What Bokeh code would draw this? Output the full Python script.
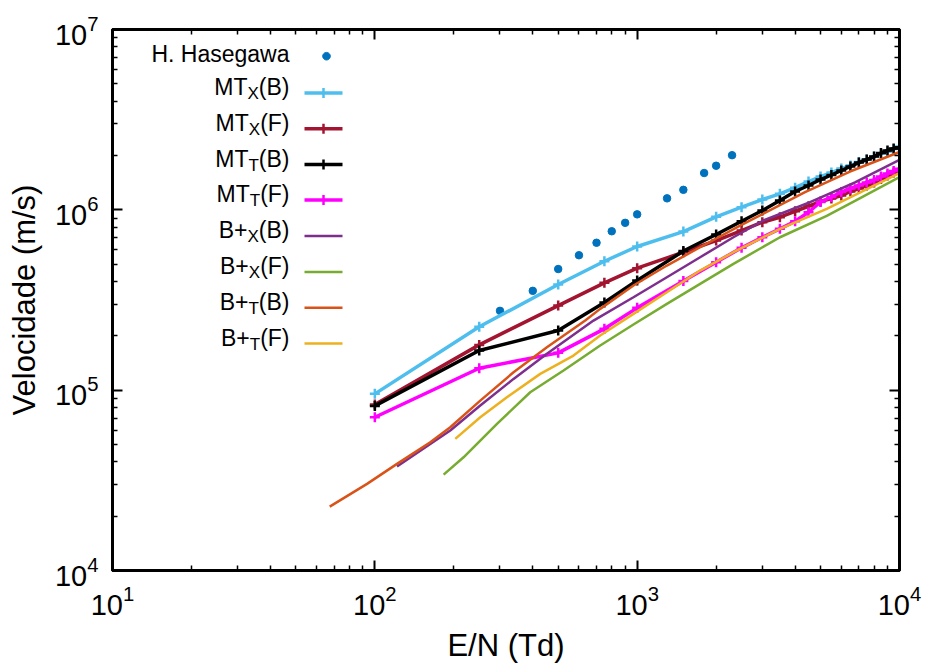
import math
from bokeh.plotting import figure
from bokeh.models import Range1d, FixedTicker, LogAxis, Label, PolyAnnotation
from bokeh.embed import file_html
from bokeh.resources import INLINE

# ---------------- data ----------------
haseg_x = [300, 400, 500, 600, 700, 800, 900, 1000, 1300, 1500, 1800, 2000, 2300]
haseg_y = [275300, 355400, 469600, 560100, 656900, 760700, 847000, 944000,
           1158000, 1291000, 1600000, 1756000, 2009000]

mt_x = [100, 250, 500, 750, 1000, 1500, 2000, 2500, 3000, 3500, 4000, 4500,
        5000, 5500, 6000, 6500, 7000, 7500, 8000, 8500, 9000, 9500, 10000]
mtx_b = [95400, 224500, 385200, 518600, 626000, 757800, 914500, 1034000, 1140000,
         1227000, 1327000, 1435000, 1530000, 1610000, 1694000, 1761000, 1841000,
         1901000, 1975000, 2053000, 2106000, 2174000, 2245000]
mtx_f = [83200, 178300, 294500, 393700, 474500, 581900, 675500, 767600, 853500,
         910000, 982000, 1047000, 1112000, 1155000, 1200000, 1264000, 1313000,
         1364000, 1418000, 1482000, 1550000, 1610000, 1667000]
mtt_b = [81800, 165800, 214100, 306000, 405400, 590800, 729400, 864600, 991000,
         1126000, 1264000, 1364000, 1472000, 1560000, 1652000, 1739000, 1829000,
         1901000, 1975000, 2065000, 2133000, 2188000, 2220000]
mtt_f = [70730, 132300, 161000, 218800, 286000, 402800, 512200, 615600, 704700,
         784500, 864600, 969800, 1105000, 1178000, 1255000, 1313000, 1364000,
         1418000, 1463000, 1530000, 1590000, 1642000, 1688000]

bxb_x = [121.5, 193.9, 252.3, 337.9, 452.9, 681.6, 968, 1298, 1738, 2328, 3028, 4560, 6767, 10000]
bxb_y = [37700, 59700, 82130, 115500, 159000, 243200, 327600, 422900, 545900,
         704700, 872400, 1102000, 1418000, 1894000]

bxf_x = [182.9, 217.9, 292.2, 391.2, 524, 722.8, 968, 1298, 1738, 2328, 3505, 5280, 6767, 10000]
bxf_y = [34030, 42440, 65040, 97360, 128500, 176800, 231200, 301000, 388700,
         501800, 704700, 925000, 1120000, 1520000]

btb_x = [67.3, 93.4, 121.5, 162.7, 193.9, 252.3, 337.9, 452.9, 633.9, 722.8, 968,
         1298, 1738, 2468, 4365, 6477, 10000]
btb_y = [22620, 30220, 39010, 51400, 62270, 87550, 125700, 172900, 243200, 282400,
         380300, 491000, 620300, 818300, 1252000, 1631000, 2092000]

btf_x = [202.6, 252.3, 318.8, 427.1, 571.9, 722.8, 968, 1298, 1738, 2328, 3505, 5280, 10000]
btf_y = [53690, 70730, 91300, 123100, 155600, 200900, 265000, 349100, 460600,
         581900, 784500, 1013000, 1596000]

x_major = [10, 100, 1000, 10000]
y_major = [1e4, 1e5, 1e6, 1e7]
x_minor = [k * 10 ** d for d in range(1, 4) for k in range(2, 10)]
y_minor = [k * 10 ** d for d in range(4, 7) for k in range(2, 10)]

legend_labels = [
    [("H. Hasegawa", 0)],
    [("MT", 0), ("X", 1), ("(B)", 0)],
    [("MT", 0), ("X", 1), ("(F)", 0)],
    [("MT", 0), ("T", 1), ("(B)", 0)],
    [("MT", 0), ("T", 1), ("(F)", 0)],
    [("B+", 0), ("X", 1), ("(B)", 0)],
    [("B+", 0), ("X", 1), ("(F)", 0)],
    [("B+", 0), ("T", 1), ("(B)", 0)],
    [("B+", 0), ("T", 1), ("(F)", 0)],
]

C_HASE = "#0072BD"
C_MTXB = "#4DBEEE"
C_MTXF = "#A2142F"
C_MTTB = "#000000"
C_MTTF = "#FF00FF"
C_BXB = "#7E2F8E"
C_BXF = "#77AC30"
C_BTB = "#D95319"
C_BTF = "#EDB120"

FONT = "Liberation Sans"

# ---------------- figure ----------------
p = figure(width=925, height=667, x_axis_type="log", y_axis_type="log",
           x_range=Range1d(10, 1e4), y_range=Range1d(1e4, 1e7),
           output_backend="svg", toolbar_location=None,
           min_border_left=112, min_border_right=26, min_border_top=29, min_border_bottom=97)
p.background_fill_color = "white"
p.border_fill_color = "white"
p.outline_line_color = "black"
p.outline_line_width = 3
p.grid.visible = False

p.xaxis.ticker = FixedTicker(ticks=x_major, minor_ticks=x_minor)
p.yaxis.ticker = FixedTicker(ticks=y_major, minor_ticks=y_minor)
p.xaxis.axis_label = "E/N (Td)"
p.yaxis.axis_label = "Velocidade (m/s)"

def style_axis(ax, labels=True):
    ax.axis_line_color = "black"
    ax.axis_line_width = 3
    ax.major_tick_in = 10
    ax.major_tick_out = 0
    ax.minor_tick_in = 5
    ax.minor_tick_out = 0
    ax.major_tick_line_width = 2
    ax.minor_tick_line_width = 1.5
    ax.major_tick_line_color = "black"
    ax.minor_tick_line_color = "black"
    if labels:
        ax.major_label_text_font = FONT
        ax.major_label_text_font_size = "29px"
        ax.major_label_text_color = "black"
        ax.major_label_standoff = 14
        ax.axis_label_text_font = FONT
        ax.axis_label_text_font_size = "31px"
        ax.axis_label_text_font_style = "normal"
        ax.axis_label_text_color = "black"
        ax.axis_label_standoff = 10
    else:
        ax.major_label_text_font_size = "0px"
        ax.major_label_text_alpha = 0
        ax.major_label_standoff = 0

for ax in p.xaxis + p.yaxis:
    style_axis(ax)

top = LogAxis(ticker=FixedTicker(ticks=x_major, minor_ticks=x_minor))
style_axis(top, labels=False)
p.add_layout(top, "above")
right = LogAxis(ticker=FixedTicker(ticks=y_major, minor_ticks=y_minor))
style_axis(right, labels=False)
p.add_layout(right, "right")

# ---------------- glyphs ----------------
p.scatter(haseg_x, haseg_y, marker="circle", size=7.5, fill_color=C_HASE, line_color=C_HASE)

for ys, c in [(mtx_b, C_MTXB), (mtx_f, C_MTXF), (mtt_b, C_MTTB), (mtt_f, C_MTTF)]:
    p.line(mt_x, ys, line_color=c, line_width=3.5)
    p.scatter(mt_x, ys, marker="cross", size=10, line_color=c, line_width=2.5)

for xs, ys, c in [(bxb_x, bxb_y, C_BXB), (bxf_x, bxf_y, C_BXF),
                  (btb_x, btb_y, C_BTB), (btf_x, btf_y, C_BTF)]:
    p.line(xs, ys, line_color=c, line_width=2.5)

# ---------------- legend (gnuplot style: text left, sample right) ----------------
CW = {'M': .833, 'T': .611, 'B': .667, '+': .584, 'X': .667, '(': .333, ')': .333,
      'F': .611, 'H': .722, '.': .278, ' ': .278, 'a': .556, 's': .5, 'e': .556,
      'g': .556, 'w': .722}

def tw(s, fs):
    return sum(CW.get(ch, .55) for ch in s) * fs

FRAME_L, FRAME_B = 112, 570
row_y = [55.7, 92.5, 128.3, 164.0, 199.5, 235.6, 271.5, 307.3, 343.0]
text_right = 289
line_x0, line_x1 = 304, 342
FS_MAIN, FS_SUB = 23, 17

kinds = [("dot", C_HASE), ("mt", C_MTXB), ("mt", C_MTXF), ("mt", C_MTTB), ("mt", C_MTTF),
         ("bp", C_BXB), ("bp", C_BXF), ("bp", C_BTB), ("bp", C_BTF)]

for i, parts in enumerate(legend_labels):
    ly = row_y[i]
    has_sub = any(s for _, s in parts)
    base = ly + (-6 if has_sub else -2)
    cur = text_right
    for txt, sub in reversed(parts):
        fs = FS_SUB if sub else FS_MAIN
        by = base + (6.5 if sub else 0)
        p.add_layout(Label(x=cur - FRAME_L, y=FRAME_B - by, x_units="screen", y_units="screen",
                           text=txt, text_align="right", text_baseline="alphabetic",
                           text_font=FONT, text_font_size=f"{fs}px", text_color="black"))
        cur -= tw(txt, fs)
    kind, c = kinds[i]
    fy = FRAME_B - ly
    if kind == "dot":
        cx = 326 - FRAME_L
        r = 3.8
        xs = [cx + r * math.cos(2 * math.pi * k / 20) for k in range(20)]
        ys = [fy + r * math.sin(2 * math.pi * k / 20) for k in range(20)]
        p.add_layout(PolyAnnotation(xs=xs, ys=ys, xs_units="screen", ys_units="screen",
                                    fill_color=c, fill_alpha=1, line_color=c,
                                    line_alpha=1, line_width=1))
    else:
        lw = 3.5 if kind == "mt" else 2.5
        p.add_layout(PolyAnnotation(xs=[line_x0 - FRAME_L, line_x1 - FRAME_L], ys=[fy, fy],
                                    xs_units="screen", ys_units="screen",
                                    fill_alpha=0, line_color=c, line_alpha=1, line_width=lw))
        if kind == "mt":
            cx = (line_x0 + line_x1) / 2 - FRAME_L
            p.add_layout(PolyAnnotation(xs=[cx, cx], ys=[fy - 5, fy + 5],
                                        xs_units="screen", ys_units="screen",
                                        fill_alpha=0, line_color=c, line_alpha=1,
                                        line_width=2.5))

open("out.html", "w").write(file_html(p, INLINE))
